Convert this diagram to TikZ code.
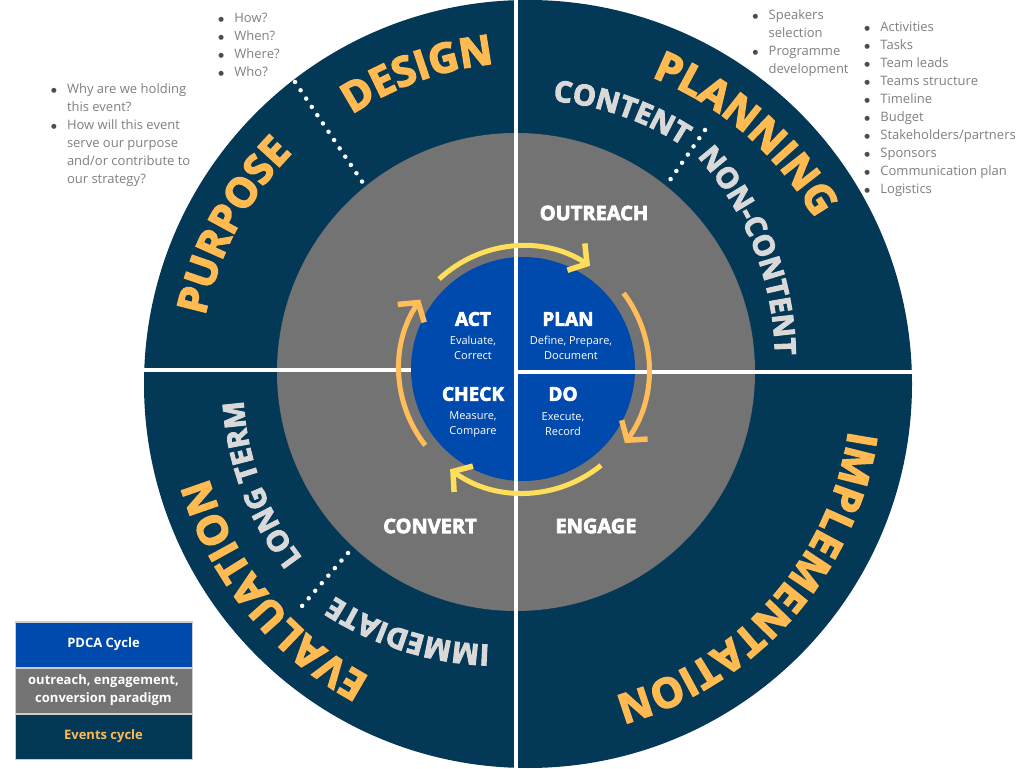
\documentclass[tikz,border=0pt]{standalone}
\usepackage{fontspec}
\setmainfont{Open Sans}
\newfontfamily\heavyfont{Open Sans}[BoldFeatures={FakeBold=3.5}]
\newfontfamily\dotfont{DejaVu Sans}
\usepackage{tikz}
\usetikzlibrary{arrows.meta,positioning,calc,decorations.text}
\definecolor{eventnavy}{HTML}{033956}
\definecolor{ringgray}{HTML}{737373}
\definecolor{pdcablue}{HTML}{004AAD}
\definecolor{titleorange}{HTML}{FFBA52}
\definecolor{arrowyellow}{HTML}{FFDE59}
\definecolor{arroworange}{HTML}{FFBD59}
\definecolor{sublight}{HTML}{D9D9D9}
\definecolor{notegray}{HTML}{808080}
\definecolor{bulletgray}{HTML}{4D4D4D}
\newcommand{\titlefont}{\fontsize{41}{41}\heavyfont\bfseries\color{titleorange}}
\newcommand{\subtitlefont}{\fontsize{29}{29}\heavyfont\bfseries\color{sublight}}
\newcommand{\bul}{\makebox[16pt][l]{\raisebox{1.2pt}{\dotfont\fontsize{6.5}{6.5}\selectfont\textcolor{bulletgray}{●}}}}
\tikzset{
  ringtitle/.style={decorate, decoration={text along path, text align=center, text={|\titlefont|#1}}},
  ringsub/.style={decorate, decoration={text along path, text align=center, text={|\subtitlefont|#1}}},
  sepdots/.style={white, line width=4.5pt, line cap=round, dash pattern=on 0pt off 10pt},
  divider/.style={white, line width=4pt},
  ringlabel/.style={text=white, font=\fontsize{20}{20}\heavyfont\bfseries, inner sep=0pt},
  pdcahead/.style={text=white, font=\fontsize{19}{19}\heavyfont\bfseries, inner sep=0pt},
  pdcasub/.style={text=white, font=\fontsize{11}{15}\selectfont, align=center, inner sep=0pt},
  notelist/.style={text=notegray, font=\fontsize{13}{18}\selectfont, anchor=base west, inner sep=0pt},
  legendbox/.style={draw=white!80!black, line width=1pt, minimum width=177pt, minimum height=45pt, font=\fontsize{13}{18}\selectfont\bfseries, align=center, inner sep=0pt},
  cyclearrow/.style={line width=5pt, -{Straight Barb[length=13pt,width=32pt,line width=5.5pt]}}
}
\begin{document}
\begin{tikzpicture}[x=1pt,y=1pt]
  \useasboundingbox (0,0) rectangle (1024,768);
  \fill[white] (0,0) rectangle (1024,768);
  \coordinate (outerc) at (528,384);
  \coordinate (grayc) at (516,396);
  \coordinate (pdcac) at (523,399);
  \coordinate (noncontc) at (470,408);
  \coordinate (immedc) at (500,428);
  % rings
  \fill[eventnavy] (outerc) circle[radius=384pt];
  \fill[ringgray] (grayc) circle[radius=239pt];
  \fill[pdcablue] (pdcac) circle[radius=112pt];
  % dividers
  \draw[divider] (516,0) -- (516,768);
  \draw[divider] (140,398) -- (411,398);
  \draw[divider] (516,395.5) -- (916,395.5);
  % dotted separators
  \draw[sepdots] (295,686) -- (363,585);
  \draw[sepdots] (705,638) -- (670,588);
  \draw[sepdots] (348,215) -- (302,162);
  % events cycle
  \path[ringtitle=PURPOSE, shift={(outerc)}] (211.8:330pt) arc[start angle=211.8, end angle=91.8, radius=330pt];
  \path[ringtitle=DESIGN, shift={(outerc)}] (169.6:322pt) arc[start angle=169.6, end angle=49.6, radius=322pt];
  \path[ringtitle=PLANNING, shift={(outerc)}] (109:331pt) arc[start angle=109, end angle=-11, radius=331pt];
  \path[ringtitle=IMPLEMENTATION, shift={(outerc)}] (28.6:324pt) arc[start angle=28.6, end angle=-111.4, radius=324pt];
  \path[ringtitle=EVALUATION, shift={(outerc)}] (279:333pt) arc[start angle=279, end angle=159, radius=333pt];
  \path[ringsub=CONTENT, shift={(outerc)}] (131:284pt) arc[start angle=131, end angle=11, radius=284pt];
  \path[ringsub=NON-CONTENT, shift={(noncontc)}] (81.4:305pt) arc[start angle=81.4, end angle=-38.6, radius=305pt];
  \path[ringsub=LONG TERM, shift={(outerc)}] (260.5:285pt) arc[start angle=260.5, end angle=140.5, radius=285pt];
  \path[ringsub=IMMEDIATE, shift={(immedc)}] (312.6:305pt) arc[start angle=312.6, end angle=192.6, radius=305pt];
  % outreach, engagement, conversion
  \node[ringlabel] (outreach) at (594,555) {OUTREACH};
  \node[ringlabel] (engage) at (596,242) {ENGAGE};
  \node[ringlabel] (convert) at (430,242) {CONVERT};
  % PDCA
  \node[pdcahead] (act) at (473,449) {ACT};
  \node[pdcasub] (actsub) at (473,420.5) {Evaluate,\\Correct};
  \node[pdcahead] (plan) at (568,449) {PLAN};
  \node[pdcasub] (plansub) at (571,420.5) {Define, Prepare,\\Document};
  \node[pdcahead] (check) at (473,374) {CHECK};
  \node[pdcasub] (checksub) at (473,344) {Measure,\\Compare};
  \node[pdcahead] (do) at (563,374) {DO};
  \node[pdcasub] (dosub) at (563,344) {Execute,\\Record};
  \coordinate (actout) at ([shift={(133:123pt)}]pdcac);
  \coordinate (planout) at ([shift={(37:126pt)}]pdcac);
  \coordinate (doout) at ([shift={(-51:124pt)}]pdcac);
  \coordinate (checkout) at ([shift={(218:124pt)}]pdcac);
  \draw[cyclearrow, arrowyellow] (actout) arc[start angle=133, end angle=57, radius=123pt];
  \draw[cyclearrow, arroworange] (planout) arc[start angle=37, end angle=-36, radius=126pt];
  \draw[cyclearrow, arrowyellow] (doout) arc[start angle=-51, end angle=-126, radius=124pt];
  \draw[cyclearrow, arroworange] (checkout) arc[start angle=218, end angle=146, radius=124pt];
  % notes
  \node[notelist] (designnotes) at (218.2,745) {\begin{tabular}[t]{@{}l@{}l@{}}
    \bul & How?\\ \bul & When?\\ \bul & Where?\\ \bul & Who?\end{tabular}};
  \node[notelist] (purposenotes) at (50.8,674) {\begin{tabular}[t]{@{}l@{}l@{}}
    \bul & Why are we holding\\ & this event?\\ \bul & How will this event\\
    & serve our purpose\\ & and/or contribute to\\ & our strategy?\end{tabular}};
  \node[notelist] (contentnotes) at (752.5,748) {\begin{tabular}[t]{@{}l@{}l@{}}
    \bul & Speakers\\ & selection\\ \bul & Programme\\ & development\end{tabular}};
  \node[notelist] (noncontentnotes) at (864.2,736) {\begin{tabular}[t]{@{}l@{}l@{}}
    \bul & Activities\\ \bul & Tasks\\ \bul & Team leads\\ \bul & Teams structure\\
    \bul & Timeline\\ \bul & Budget\\ \bul & Stakeholders/partners\\ \bul & Sponsors\\
    \bul & Communication plan\\ \bul & Logistics\end{tabular}};
  % legend
  \node[legendbox, fill=pdcablue, text=white] (pdcakey) at (103.5,123.5) {PDCA Cycle};
  \node[legendbox, fill=ringgray, text=white, below=0pt of pdcakey] (oeckey) {outreach, engagement,\\conversion paradigm};
  \node[legendbox, fill=eventnavy, text=titleorange, below=0pt of oeckey] (eventskey) {Events cycle};
\end{tikzpicture}
\end{document}
